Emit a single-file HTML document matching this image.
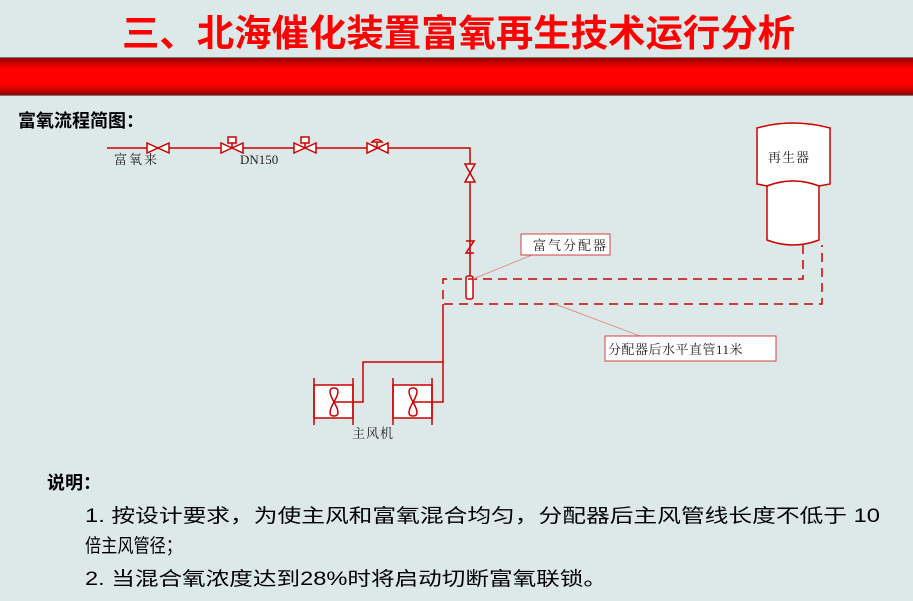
<!DOCTYPE html>
<html><head><meta charset="utf-8"><style>
html,body{margin:0;padding:0;background:#dde9e9;}
svg{display:block;}
</style></head><body>
<svg width="913" height="601" viewBox="0 0 913 601" xmlns="http://www.w3.org/2000/svg" font-family="'Liberation Sans','Noto Sans CJK SC',sans-serif">
<defs>
<linearGradient id="band" x1="0" y1="0" x2="0" y2="1">
<stop offset="0" stop-color="#8a0000"/><stop offset="0.3" stop-color="#ff0000"/><stop offset="0.7" stop-color="#ff0000"/><stop offset="1" stop-color="#8a0000"/>
</linearGradient>
</defs>
<rect width="913" height="601" fill="#dde9e9"/>
<text x="122" y="46" font-size="37" font-weight="bold" fill="#ff0000" textLength="673" lengthAdjust="spacingAndGlyphs">三、北海催化装置富氧再生技术运行分析</text>
<rect x="0" y="57" width="913" height="39" fill="url(#band)"/>
<line x1="0" y1="57.5" x2="913" y2="57.5" stroke="#777"/>
<line x1="0" y1="95.5" x2="913" y2="95.5" stroke="#777"/>
<text x="18" y="127" font-size="18" font-weight="bold" fill="#000">富氧流程简图：</text>

<g stroke="#cc0000" stroke-width="1.5" fill="#fff">
<polyline points="107,148 470,148 470,276" fill="none"/>
<polygon points="147,143 147,153 169,143 169,153"/>
<polygon points="221,143 221,153 243,143 243,153"/>
<line x1="232" y1="148" x2="232" y2="142"/><rect x="228" y="137" width="8" height="6"/>
<polygon points="294,143 294,153 316,143 316,153"/>
<line x1="305" y1="148" x2="305" y2="142"/><rect x="301" y="137" width="8" height="6"/>
<polygon points="367,143 367,153 388,143 388,153"/>
<line x1="377" y1="148" x2="377" y2="142"/><path d="M372,142 Q377,137 382,142 Z"/>
<polygon points="465,164 475,164 465,182 475,182"/>
<polyline points="466,241 474,241 466,253 474,253" fill="none"/>
<rect x="466" y="276" width="7" height="23" rx="2"/>
<polyline points="443,304 443,402 432,402" fill="none"/>
<polyline points="443,362 363,362 363,402 353,402" fill="none"/>
<rect x="314" y="385" width="39" height="33"/>
<line x1="314" y1="378" x2="314" y2="425"/><line x1="353" y1="378" x2="353" y2="425"/>
<path d="M334,388 Q326,388 334,402 Q342,416 334,416 Q326,416 334,402 Q342,388 334,388Z" fill="none"/>
<line x1="334" y1="402" x2="353" y2="402"/>
<rect x="393" y="385" width="39" height="33"/>
<line x1="393" y1="378" x2="393" y2="425"/><line x1="432" y1="378" x2="432" y2="425"/>
<path d="M413,388 Q405,388 413,402 Q421,416 413,416 Q405,416 413,402 Q421,388 413,388Z" fill="none"/>
<line x1="413" y1="402" x2="432" y2="402"/>
<path d="M757,128 Q793,118 830,128 L830,184 L819,186 Q793,176 767,186 L757,184 Z"/>
<path d="M767,186 Q793,176 819,186 L819,240 Q793,250 767,240 Z"/>
</g>
<g stroke="#cc0000" stroke-width="1.5" fill="none" stroke-dasharray="9,6">
<polyline points="803,245 803,279 443,279 443,304 822,304 822,245"/>
</g>
<g stroke="#e09090" stroke-width="1">
<line x1="473" y1="279" x2="532" y2="255"/>
<line x1="555" y1="304" x2="640" y2="336"/>
</g>
<g fill="#fff" stroke="#d04040" stroke-width="1">
<rect x="521" y="234" width="89" height="21"/>
<rect x="605" y="336" width="171" height="25"/>
</g>
<g font-family="'Liberation Serif','Noto Serif CJK SC',serif" font-size="13" fill="#222">
<text x="114" y="164" letter-spacing="2">富氧来</text>
<text x="240" y="164">DN150</text>
<text x="533" y="250" letter-spacing="2">富气分配器</text>
<text x="608" y="354" letter-spacing="0.5">分配器后水平直管11米</text>
<text x="352" y="438" letter-spacing="1">主风机</text>
<text x="768" y="162" letter-spacing="1">再生器</text>
</g>
<text x="47" y="489" font-size="18" font-weight="bold" fill="#000">说明：</text>
<g font-size="19" fill="#000">
<text x="85" y="522" textLength="795" lengthAdjust="spacingAndGlyphs">1. 按设计要求，为使主风和富氧混合均匀，分配器后主风管线长度不低于  10</text>
<text x="85" y="552" textLength="97" lengthAdjust="spacingAndGlyphs">倍主风管径；</text>
<text x="85" y="585" textLength="522" lengthAdjust="spacingAndGlyphs">2. 当混合氧浓度达到28%时将启动切断富氧联锁。</text>
</g>
</svg>
</body></html>
